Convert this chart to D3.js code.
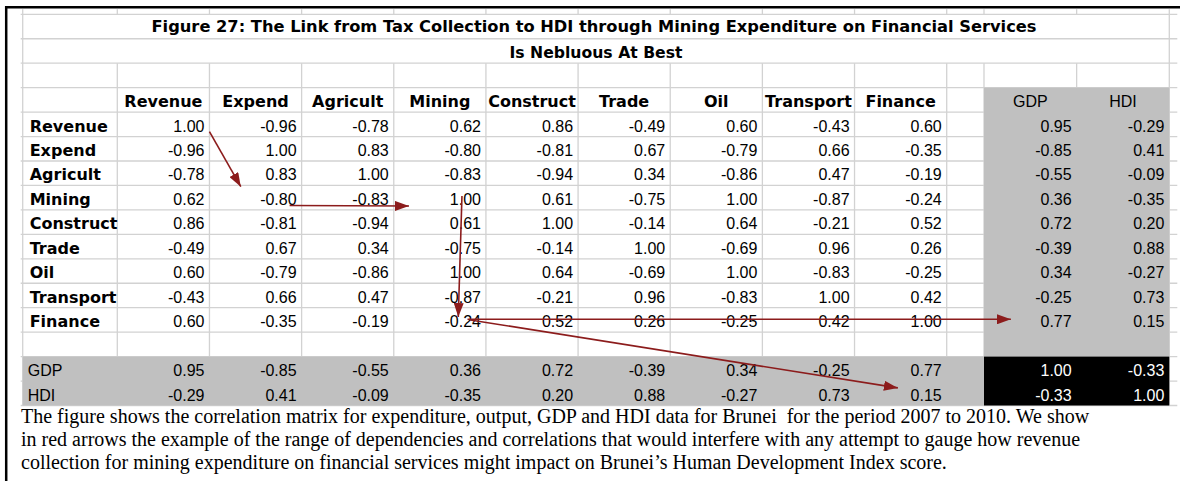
<!DOCTYPE html>
<html>
<head>
<meta charset="utf-8">
<script src="https://cdn.jsdelivr.net/npm/d3@7"></script>
<style>
  body { margin: 0; background: #fff; }
  svg { display: block; }
  .num { font-family: "Liberation Sans", Arial, sans-serif; font-size: 16px; }
  .lab { font-family: "DejaVu Sans", Verdana, sans-serif; font-weight: bold; font-size: 16px; }
  .reg { font-family: "Liberation Sans", Arial, sans-serif; font-size: 16px; }
  .title { font-family: "DejaVu Sans", Verdana, sans-serif; font-weight: bold; font-size: 16px; }
  .caption { font-family: "Liberation Serif", "Times New Roman", serif; font-size: 20px; white-space: pre; }
</style>
</head>
<body>
<svg id="chart"></svg>
<script>
// sectors (rows and columns of the correlation matrix)
const sectors = ['Revenue', 'Expend', 'Agricult', 'Mining', 'Construct', 'Trade', 'Oil', 'Transport', 'Finance'];
const macro = ['GDP', 'HDI'];

// each row: 9 sector correlations followed by GDP, HDI
const revenue   = [1.00, -0.96, -0.78, 0.62, 0.86, -0.49, 0.60, -0.43, 0.60, 0.95, -0.29];
const expend    = [-0.96, 1.00, 0.83, -0.80, -0.81, 0.67, -0.79, 0.66, -0.35, -0.85, 0.41];
const agricult  = [-0.78, 0.83, 1.00, -0.83, -0.94, 0.34, -0.86, 0.47, -0.19, -0.55, -0.09];
const mining    = [0.62, -0.80, -0.83, 1.00, 0.61, -0.75, 1.00, -0.87, -0.24, 0.36, -0.35];
const construct = [0.86, -0.81, -0.94, 0.61, 1.00, -0.14, 0.64, -0.21, 0.52, 0.72, 0.20];
const trade     = [-0.49, 0.67, 0.34, -0.75, -0.14, 1.00, -0.69, 0.96, 0.26, -0.39, 0.88];
const oil       = [0.60, -0.79, -0.86, 1.00, 0.64, -0.69, 1.00, -0.83, -0.25, 0.34, -0.27];
const transport = [-0.43, 0.66, 0.47, -0.87, -0.21, 0.96, -0.83, 1.00, 0.42, -0.25, 0.73];
const finance   = [0.60, -0.35, -0.19, -0.24, 0.52, 0.26, -0.25, 0.42, 1.00, 0.77, 0.15];
const gdp       = [0.95, -0.85, -0.55, 0.36, 0.72, -0.39, 0.34, -0.25, 0.77, 1.00, -0.33];
const hdi       = [-0.29, 0.41, -0.09, -0.35, 0.20, 0.88, -0.27, 0.73, 0.15, -0.33, 1.00];

const titleText = 'Figure 27: The Link from Tax Collection to HDI through Mining Expenditure on Financial Services';
const subtitleText = 'Is Nebluous At Best';
const captionLines = [
  'The figure shows the correlation matrix for expenditure, output, GDP and HDI data for Brunei  for the period 2007 to 2010. We show',
  'in red arrows the example of the range of dependencies and correlations that would interfere with any attempt to gauge how revenue',
  'collection for mining expenditure on financial services might impact on Brunei\u2019s Human Development Index score.'
];

// red arrows: [row, column, fx, fy] -> [row, column, fx, fy] (fractions inside the cell)
const arrowFrom = [
  ['Revenue', 'Revenue', 1.0, 0.8],
  ['Mining', 'Expend', 0.87, 0.82],
  ['Mining', 'Mining', 0.74, 0.43],
  ['Finance', 'Mining', 0.80, 0.475],
  ['Finance', 'Mining', 0.83, 0.50]
];
const arrowTo = [
  ['Mining', 'Expend', 0.34, 0.05],
  ['Mining', 'Mining', 0.165, 0.84],
  ['Finance', 'Mining', 0.70, 0.38],
  ['Finance', 'GDP', 0.29, 0.475],
  ['HDI', 'Finance', 0.47, 0.28]
];

const rowData = [revenue, expend, agricult, mining, construct, trade, oil, transport, finance, gdp, hdi];
const allRows = sectors.concat(macro);
const allCols = sectors.concat(macro);

const width = 1182, height = 481;
const gridLeft = 22.7, labelRight = 117.3, sectorRight = 946.7, macroLeft = 984, gridRight = 1169.3;
const gridTop = 14.3, rowH = 24.45;

const fmt = d3.formatLocale({ decimal: '.', thousands: ',', grouping: [3], currency: ['', ''], minus: '-' }).format('.2f');

const svg = d3.select('#chart').attr('width', width).attr('height', height);

const rowKeys = ['title', 'subtitle', 'blank0', 'header'].concat(sectors, ['blank1'], macro);
const y = d3.scaleBand().domain(rowKeys).range([gridTop, gridTop + rowKeys.length * rowH]);
const xs = d3.scaleBand().domain(sectors).range([labelRight, sectorRight]);
const xm = d3.scaleBand().domain(macro).range([macroLeft, gridRight]);
const colX = k => (sectors.includes(k) ? xs(k) : xm(k));
const colW = k => (sectors.includes(k) ? xs.bandwidth() : xm.bandwidth());
const gridBottom = y.range()[1];

svg.append('rect').attr('width', width).attr('height', height).attr('fill', '#fff');

// gridlines
const grid = svg.append('g').attr('stroke', '#d2d2d2').attr('stroke-width', 1.3);
rowKeys.concat(['end']).forEach(k => {
  const yy = k === 'end' ? gridBottom : y(k);
  grid.append('line').attr('x1', gridLeft - 2).attr('x2', gridRight + 8).attr('y1', yy).attr('y2', yy);
});
const vBounds = [labelRight].concat(sectors.map(s => xs(s) + xs.bandwidth()), [macroLeft, xm('HDI')]);
vBounds.forEach(xx => {
  grid.append('line').attr('x1', xx).attr('x2', xx).attr('y1', y('blank0')).attr('y2', gridBottom);
  grid.append('line').attr('x1', xx).attr('x2', xx).attr('y1', gridTop - 5).attr('y2', gridTop);
});
[gridLeft, gridRight].forEach(xx => {
  grid.append('line').attr('x1', xx).attr('x2', xx).attr('y1', gridTop - 5).attr('y2', gridBottom);
});

// shaded blocks
svg.append('rect')
  .attr('x', macroLeft).attr('y', y('header'))
  .attr('width', gridRight - macroLeft).attr('height', y('GDP') - y('header'))
  .attr('fill', '#c0c0c0');
svg.append('rect')
  .attr('x', gridLeft).attr('y', y('GDP'))
  .attr('width', macroLeft - gridLeft).attr('height', y.bandwidth() * 2)
  .attr('fill', '#c0c0c0');
svg.append('rect')
  .attr('x', macroLeft).attr('y', y('GDP'))
  .attr('width', gridRight - macroLeft).attr('height', y.bandwidth() * 2)
  .attr('fill', '#000');

// title
const midX = (gridLeft + gridRight) / 2 - 2;
svg.append('text').attr('class', 'title')
  .attr('x', midX).attr('y', y('title') + rowH - 6.5)
  .attr('text-anchor', 'middle')
  .attr('textLength', 885).attr('lengthAdjust', 'spacingAndGlyphs')
  .text(titleText);
svg.append('text').attr('class', 'title')
  .attr('x', midX + 2).attr('y', y('subtitle') + rowH - 5.5)
  .attr('text-anchor', 'middle')
  .attr('textLength', 173).attr('lengthAdjust', 'spacingAndGlyphs')
  .text(subtitleText);

// header row
svg.append('g').selectAll('text')
  .data(allCols)
  .join('text')
  .attr('class', d => (sectors.includes(d) ? 'lab' : 'reg'))
  .attr('x', d => colX(d) + colW(d) / 2)
  .attr('y', y('header') + rowH - 5)
  .attr('text-anchor', 'middle')
  .text(d => d);

// row labels
svg.append('g').selectAll('text')
  .data(allRows)
  .join('text')
  .attr('class', d => (sectors.includes(d) ? 'lab' : 'reg'))
  .attr('x', d => (sectors.includes(d) ? gridLeft + 7 : gridLeft + 5))
  .attr('y', d => y(d) + rowH - 5)
  .text(d => d);

// cell values
const cells = [];
allRows.forEach((r, i) => {
  allCols.forEach((c, j) => cells.push({ row: r, col: c, v: rowData[i][j] }));
});
svg.append('g').selectAll('text')
  .data(cells)
  .join('text')
  .attr('class', 'num')
  .attr('x', d => colX(d.col) + colW(d.col) - 5)
  .attr('y', d => y(d.row) + rowH - 5)
  .attr('text-anchor', 'end')
  .attr('fill', d => (macro.includes(d.row) && macro.includes(d.col) ? '#fff' : '#000'))
  .text(d => fmt(d.v));

// arrows
const arrowColor = '#8c1c1c';
svg.append('defs').append('marker')
  .attr('id', 'head')
  .attr('markerUnits', 'userSpaceOnUse')
  .attr('markerWidth', 14).attr('markerHeight', 10)
  .attr('refX', 14).attr('refY', 5)
  .attr('orient', 'auto')
  .append('path').attr('d', 'M0,0L14,5L0,10Z').attr('fill', arrowColor);

const pt = p => [colX(p[1]) + colW(p[1]) * p[2], y(p[0]) + rowH * p[3]];
svg.append('g').selectAll('line')
  .data(arrowFrom.map((f, i) => [pt(f), pt(arrowTo[i])]))
  .join('line')
  .attr('x1', d => d[0][0]).attr('y1', d => d[0][1])
  .attr('x2', d => d[1][0]).attr('y2', d => d[1][1])
  .attr('stroke', arrowColor).attr('stroke-width', 1.6)
  .attr('marker-end', 'url(#head)');

// caption
svg.append('g').selectAll('text')
  .data(captionLines)
  .join('text')
  .attr('class', 'caption')
  .attr('x', 21)
  .attr('y', (d, i) => 423 + i * 23)
  .text(d => d);

// frame
svg.append('line').attr('x1', 6.2).attr('x2', 6.2).attr('y1', 6).attr('y2', height)
  .attr('stroke', '#000').attr('stroke-width', 2.5);
svg.append('line').attr('x1', 5).attr('x2', 1180).attr('y1', 7.2).attr('y2', 7.2)
  .attr('stroke', '#000').attr('stroke-width', 2.5);
</script>
</body>
</html>
